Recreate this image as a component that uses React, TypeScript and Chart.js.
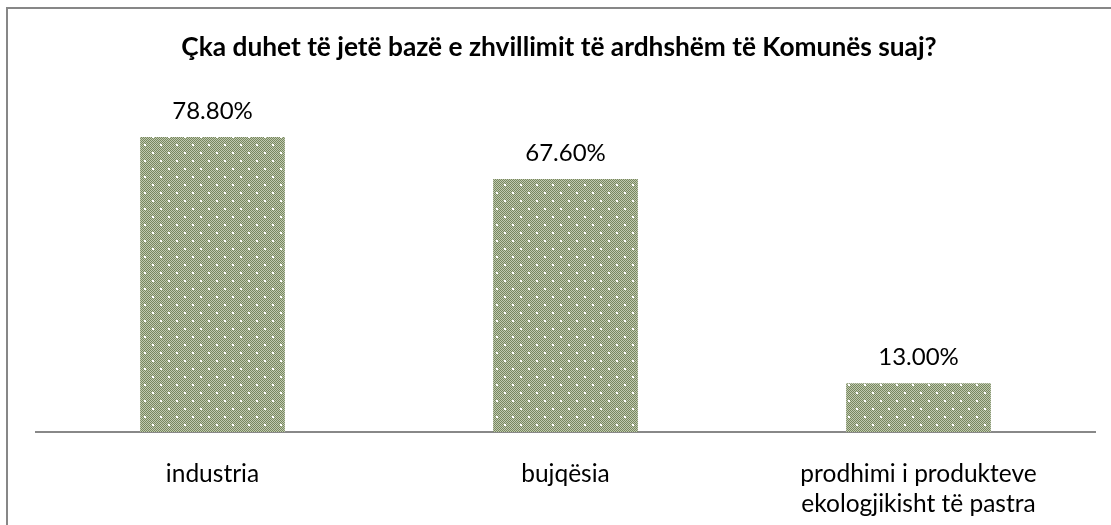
import React, { useEffect, useRef } from "react";
import { Chart, registerables } from "chart.js";

Chart.register(...registerables);

const TITLE = "Çka duhet të jetë bazë e zhvillimit të ardhshëm të Komunës suaj?";
const categories: (string | string[])[] = [
  "industria",
  "bujqësia",
  ["prodhimi i produkteve", "ekologjikisht të pastra"],
];
const values: number[] = [78.8, 67.6, 13.0];
const valueLabels: string[] = ["78.80%", "67.60%", "13.00%"];

const FONT = "Lato, 'Liberation Sans', sans-serif";

function makePattern(): CanvasPattern | string {
  const tile = document.createElement("canvas");
  tile.width = 16;
  tile.height = 16;
  const c = tile.getContext("2d");
  if (!c) return "#a3ad8e";
  for (let y = 0; y < 16; y++) {
    for (let x = 0; x < 16; x++) {
      c.fillStyle = (x + y) % 2 === 0 ? "#77875e" : "#c0c9b0";
      c.fillRect(x, y, 1, 1);
    }
  }
  c.fillStyle = "#ffffff";
  const dots = [
    [0, 0],
    [8, 8],
  ];
  for (const [dx, dy] of dots) {
    c.fillRect(dx, dy, 2, 2);
  }
  const main = document.createElement("canvas").getContext("2d");
  const p = main ? main.createPattern(tile, "repeat") : null;
  return p || "#a3ad8e";
}

const labelPlugin = {
  id: "valueLabels",
  afterDatasetsDraw(chart: any) {
    const ctx = chart.ctx;
    const meta = chart.getDatasetMeta(0);
    ctx.save();
    ctx.fillStyle = "#000";
    ctx.font = `24px ${FONT}`;
    ctx.textAlign = "center";
    ctx.textBaseline = "alphabetic";
    meta.data.forEach((bar: any, i: number) => {
      ctx.fillText(valueLabels[i], bar.x, bar.y - 18);
    });
    ctx.restore();
  },
};

const titlePlugin = {
  id: "customTitle",
  afterDraw(chart: any) {
    const ctx = chart.ctx;
    ctx.save();
    ctx.fillStyle = "#000";
    ctx.font = `bold 26.3px ${FONT}`;
    ctx.textAlign = "center";
    ctx.textBaseline = "alphabetic";
    ctx.fillText(TITLE, 559, 56);
    ctx.restore();
  },
};

export default function App() {
  const ref = useRef<HTMLCanvasElement | null>(null);

  useEffect(() => {
    if (!ref.current) return;
    const chart = new Chart(ref.current, {
      type: "bar",
      data: {
        labels: categories,
        datasets: [
          {
            data: values,
            backgroundColor: makePattern() as any,
            borderWidth: 0,
            barPercentage: 0.41,
            categoryPercentage: 1,
          },
        ],
      },
      options: {
        animation: false,
        responsive: false,
        maintainAspectRatio: false,
        layout: { padding: { top: 95, left: 36, right: 16, bottom: 0 } },
        plugins: {
          legend: { display: false },
          title: { display: false },
          tooltip: { enabled: false },
        },
        scales: {
          x: {
            grid: { display: false, drawTicks: false },
            border: { display: true, color: "#888888", width: 2 },
            ticks: {
              color: "#000",
              font: { family: FONT, size: 24.5, lineHeight: 1.22 },
              padding: 27,
              maxRotation: 0,
              autoSkip: false,
            },
            afterFit(scale: any) {
              scale.height = 93;
            },
          },
          y: {
            display: false,
            min: 0,
            max: 90,
          },
        },
      },
      plugins: [labelPlugin, titlePlugin],
    });
    return () => chart.destroy();
  }, []);

  return (
    <div style={{ position: "fixed", left: 0, top: 0, width: 1111, height: 525, background: "#fff", overflow: "hidden" }}>
      <div
        style={{
          position: "absolute",
          left: 6,
          top: 7,
          width: 1200,
          height: 600,
          borderTop: "2px solid #878787",
          borderLeft: "2px solid #878787",
        }}
      />
      <canvas ref={ref} width={1111} height={525} style={{ position: "absolute", left: 0, top: 0 }} />
    </div>
  );
}
